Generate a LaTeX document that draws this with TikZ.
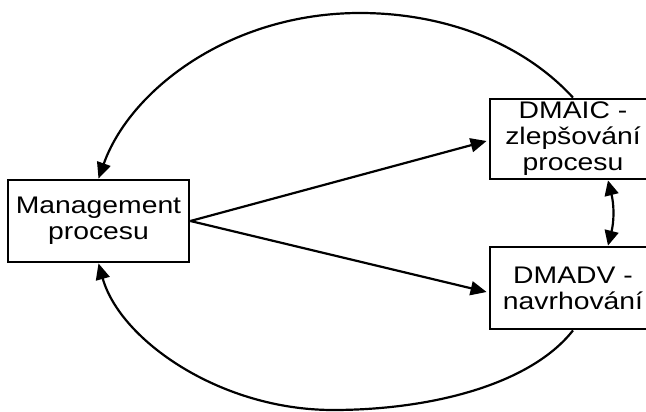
\documentclass[tikz,border=0pt]{standalone}
\usepackage{fontspec}
\setmainfont{Liberation Sans}[FakeStretch=1.18]
\usetikzlibrary{arrows.meta}
\begin{document}
\begin{tikzpicture}[x=1pt,y=-1pt,
  procbox/.style={draw, line width=2.8pt, align=center, inner sep=0pt,
    font=\fontsize{24}{26}\selectfont},
  flow/.style={line width=2.2pt, -{Triangle[length=16pt,width=14pt]}},
  both/.style={line width=2.2pt, {Triangle[length=15pt,width=14pt]}-{Triangle[length=15pt,width=14pt]}}]
  \clip (0,0) rectangle (646,412);
  \fill[white] (0,0) rectangle (646,412);

  % process boxes
  \node[procbox, minimum width=181pt, minimum height=82pt] (mgmt) at (98.5,221)
    {Management\\procesu};
  \node[procbox, minimum width=166pt, minimum height=80pt] (dmaic) at (573,139)
    {DMAIC -\\zlepšování\\procesu};
  \node[procbox, minimum width=166pt, minimum height=82pt] (dmadv) at (573,288)
    {DMADV -\\navrhování};

  % straight flows out of management
  \draw[flow] (mgmt.east) -- ([shift={(-2pt,-2pt)}]dmaic.west);
  \draw[flow] (mgmt.east) -- ([shift={(-2pt,-4pt)}]dmadv.west);

  % link between the two improvement methods
  \draw[both] ([xshift=35pt]dmaic.south) to[bend left=14] ([xshift=35pt]dmadv.north);

  % feedback loops back to management
  \coordinate (topapex) at (360,13);
  \coordinate (botapex) at (333,410);
  \draw[flow] (dmaic.north) .. controls (520,40) and (440,13) .. (topapex)
    .. controls (230,13) and (130,90) .. (mgmt.north);
  \draw[flow] (dmadv.south) .. controls (530,385) and (430,410) .. (botapex)
    .. controls (220,410) and (120,340) .. (mgmt.south);
\end{tikzpicture}
\end{document}
